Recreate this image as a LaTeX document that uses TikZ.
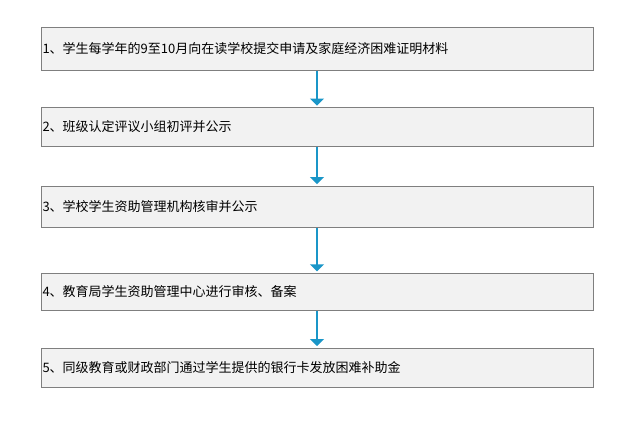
\documentclass[tikz,border=0pt]{standalone}
\usepackage{fontspec}
\setmainfont{Noto Sans CJK SC}
\usetikzlibrary{arrows.meta}
\definecolor{stepfill}{HTML}{F2F2F2}
\definecolor{stepline}{HTML}{7F7F7F}
\definecolor{flowblue}{HTML}{1A96C8}
\begin{document}
\begin{tikzpicture}[x=1pt,y=-1pt,
    stepbox/.style={draw=stepline,fill=stepfill,line width=1pt,
      minimum width=552pt,text width=549pt,inner xsep=1.5pt,inner ysep=0pt,
      align=left,font=\fontsize{13}{15}\selectfont},
    flow/.style={draw=flowblue,line width=1.5pt,shorten >=1.5pt,
      -{Triangle[width=14pt,length=7pt]}}]
    \useasboundingbox (0,0) rectangle (638,421);

    \draw (317,48.5) node[stepbox,minimum height=43pt] (s1) {1、学生每学年的9至10月向在读学校提交申请及家庭经济困难证明材料};
    \draw (317,126.8) node[stepbox,minimum height=38.5pt] (s2) {2、班级认定评议小组初评并公示};
    \draw (317,206.8) node[stepbox,minimum height=41.5pt] (s3) {3、学校学生资助管理机构核审并公示};
    \draw (317,291.9) node[stepbox,minimum height=37.2pt] (s4) {4、教育局学生资助管理中心进行审核、备案};
    \draw (317,367.5) node[stepbox,minimum height=39pt] (s5) {5、同级教育或财政部门通过学生提供的银行卡发放困难补助金};

    \draw[flow] (s1) -- (s2);
    \draw[flow] (s2) -- (s3);
    \draw[flow] (s3) -- (s4);
    \draw[flow] (s4) -- (s5);
  \end{tikzpicture}
\end{document}
